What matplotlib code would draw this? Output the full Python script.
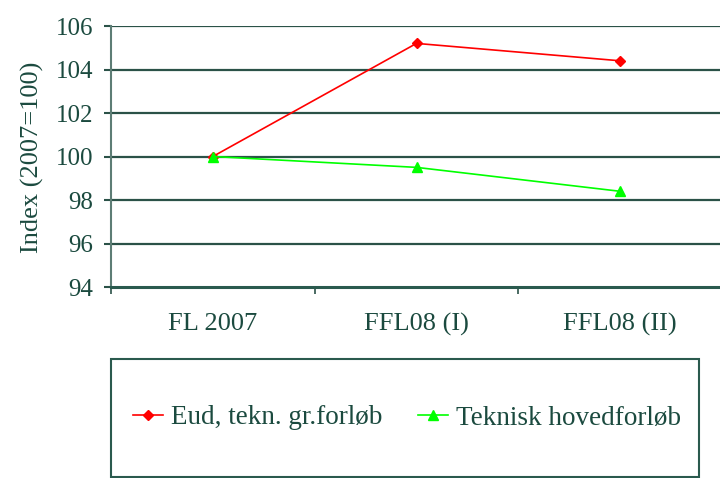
import matplotlib
matplotlib.use("Agg")
import matplotlib.pyplot as plt
from matplotlib.patches import Rectangle

categories = ["FL 2007", "FFL08 (I)", "FFL08 (II)"]
series_names = ["Eud, tekn. gr.forløb", "Teknisk hovedforløb"]
eud_values = [100.0, 105.2, 104.4]
teknisk_values = [100.0, 99.5, 98.4]
y_ticks = [94, 96, 98, 100, 102, 104, 106]

TEXT = "#1b4a3f"
GRID = "#2b5248"

plt.rcParams["font.family"] = ["Liberation Serif", "DejaVu Serif"]

fig = plt.figure(figsize=(7.2, 4.78), dpi=100)
W, H = 720, 478
ax = fig.add_axes([111 / W, (H - 287) / H, (722 - 111) / W, (287 - 26) / H])

x = list(range(len(categories)))
ax.plot(x, eud_values, color="#ff0000", lw=1.2, marker="D", ms=5,
        label=series_names[0], zorder=3)
ax.plot(x, teknisk_values, color="#00ff00", lw=1.2, marker="^", ms=7,
        label=series_names[1], zorder=3)

ax.set_xlim(-0.5, len(categories) - 0.5)
ax.set_ylim(y_ticks[0], y_ticks[-1])
ax.set_yticks(y_ticks)
ax.set_yticklabels([str(v) for v in y_ticks])
ax.set_xticks(x)
ax.set_xticklabels(categories)
ax.set_xticks([i - 0.5 for i in x], minor=True)

for v in y_ticks[1:]:
    ax.axhline(v, color=GRID, lw=1.6, zorder=1)

ax.tick_params(axis="y", which="major", length=5, width=1.5, color=GRID,
               direction="out", pad=8, labelsize=18, labelcolor=TEXT)
ax.tick_params(axis="x", which="major", length=0, pad=19, labelsize=19,
               labelcolor=TEXT)
ax.tick_params(axis="x", which="minor", length=5, width=1.2, color=GRID,
               direction="out")

for s in ["top", "right"]:
    ax.spines[s].set_visible(False)
ax.spines["bottom"].set_color("#2a5a4e")
ax.spines["bottom"].set_linewidth(2.2)
ax.spines["left"].set_color("#5d7d75")
ax.spines["left"].set_linewidth(1.5)

fig.text(32 / W, (H - 157) / H, "Index (2007=100)", rotation=90,
         ha="center", va="center", fontsize=19, color=TEXT)

# legend box
fig.patches.append(Rectangle((111 / W, (H - 477) / H), (699 - 111) / W,
                             (477 - 359) / H, transform=fig.transFigure,
                             fill=False, edgecolor="#2a5a4e", lw=1.5))
leg = fig.legend(loc="center", bbox_to_anchor=(407 / W, (H - 418) / H),
                 ncol=2, frameon=False, fontsize=19.5, handlelength=1.1,
                 handletextpad=0.3, columnspacing=1.3, borderpad=0)
for t in leg.get_texts():
    t.set_color(TEXT)

fig.savefig("out.png", dpi=100)
